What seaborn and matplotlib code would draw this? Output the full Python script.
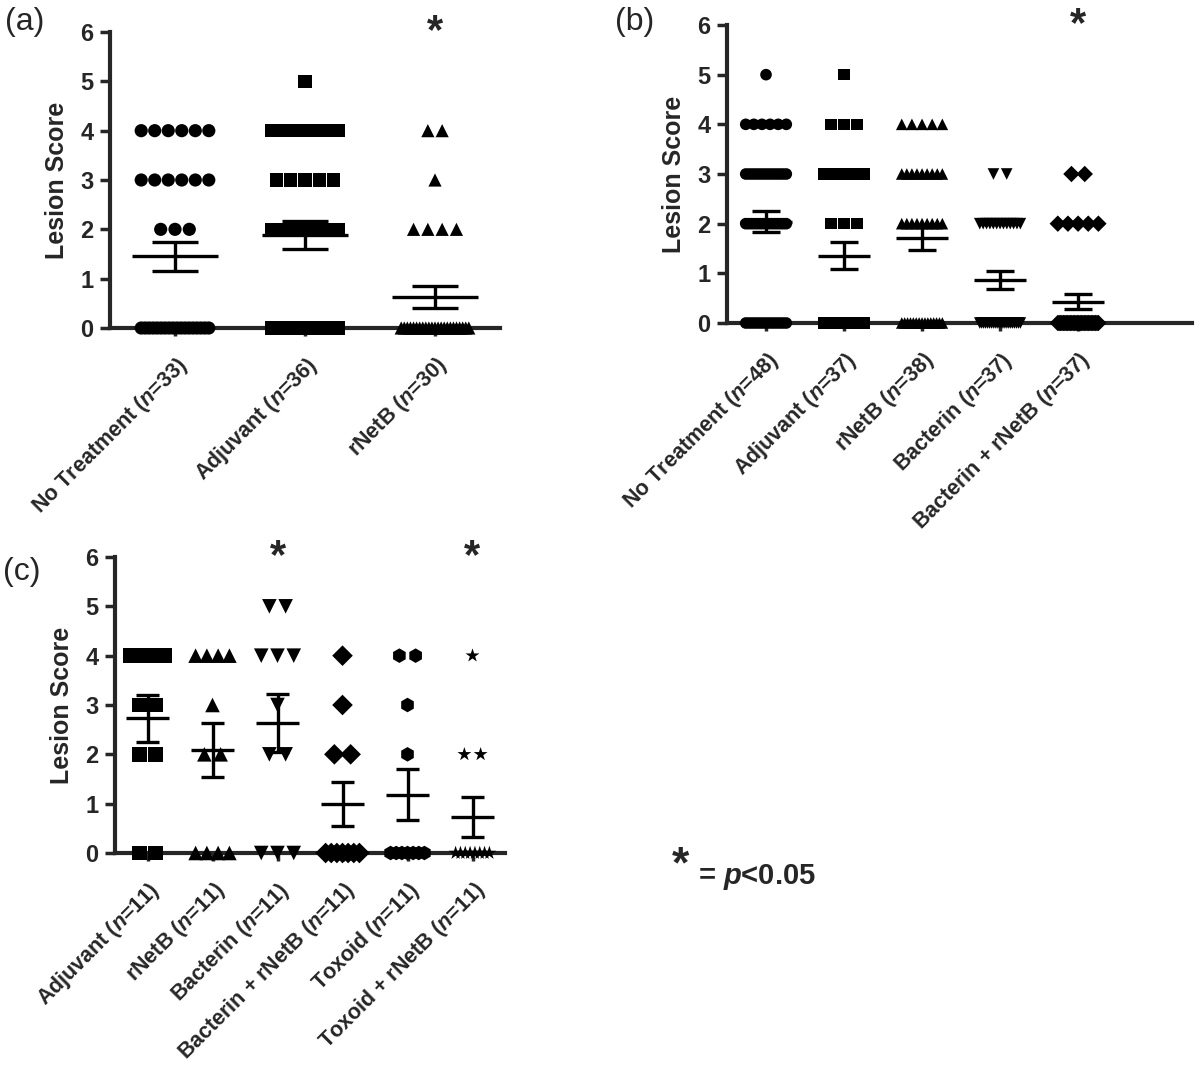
import numpy as np
import pandas as pd
import matplotlib
matplotlib.use("Agg")
import matplotlib.pyplot as plt
import seaborn as sns

sns.set_style("ticks")
plt.rcParams['font.family'] = ['Liberation Sans', 'DejaVu Sans']
plt.rcParams['font.weight'] = 'bold'
plt.rcParams['mathtext.fontset'] = 'custom'
plt.rcParams['mathtext.it'] = 'Liberation Sans:italic:bold'
plt.rcParams['mathtext.rm'] = 'Liberation Sans:bold'

# lesion score levels, counts per group are for scores 0..5
scores = [0, 1, 2, 3, 4, 5]

a_groups = ["No Treatment", "Adjuvant", "rNetB"]
a_n = [33, 36, 30]
a_counts = [[18, 0, 3, 6, 6, 0],
            [14, 0, 8, 5, 8, 1],
            [23, 0, 4, 1, 2, 0]]
a_markers = ["o", "s", "^"]
a_sig = ["rNetB"]

b_groups = ["No Treatment", "Adjuvant", "rNetB", "Bacterin", "Bacterin + rNetB"]
b_n = [48, 37, 38, 37, 37]
b_counts = [[13, 0, 15, 13, 6, 1],
            [21, 0, 3, 9, 3, 1],
            [15, 0, 9, 9, 5, 0],
            [22, 0, 13, 2, 0, 0],
            [30, 0, 5, 2, 0, 0]]
b_markers = ["o", "s", "^", "v", "D"]
b_sig = ["Bacterin + rNetB"]

c_groups = ["Adjuvant", "rNetB", "Bacterin", "Bacterin + rNetB", "Toxoid", "Toxoid + rNetB"]
c_n = [11, 11, 11, 11, 11, 11]
c_counts = [[2, 0, 2, 2, 5, 0],
            [4, 0, 2, 1, 4, 0],
            [3, 0, 2, 1, 3, 2],
            [7, 0, 2, 1, 1, 0],
            [7, 0, 1, 1, 2, 0],
            [8, 0, 2, 0, 1, 0]]
c_markers = ["s", "^", "v", "D", "h", "*"]
c_sig = ["Bacterin", "Toxoid + rNetB"]


def build_frame(groups, counts, step, maxw):
    # spread equal scores side by side, like a GraphPad scatter column
    rows = []
    for i, (g, cnt) in enumerate(zip(groups, counts)):
        for sc, k in zip(scores, cnt):
            if k == 0:
                continue
            w = min((k - 1) * step, maxw)
            for off in np.linspace(-w / 2, w / 2, k):
                rows.append({"group": g, "score": sc, "x": i + off})
    return pd.DataFrame(rows)


def panel(ax, groups, n, counts, markers, sig, step, maxw, size, xmax):
    df = build_frame(groups, counts, step, maxw)
    mk = dict(zip(groups, markers))
    sns.scatterplot(data=df, x="x", y="score", style="group", markers=mk,
                    style_order=groups, color="black", s=size,
                    edgecolor="none", legend=False, clip_on=False, zorder=3, ax=ax)
    stats = df.groupby("group", sort=False)["score"].agg(["mean", "sem"]).reindex(groups)
    xs = np.arange(len(groups))
    ax.hlines(stats["mean"], xs - 0.33, xs + 0.33, color="black", lw=2.4, zorder=4)
    ax.vlines(xs, stats["mean"] - stats["sem"], stats["mean"] + stats["sem"],
              color="black", lw=2.4, zorder=4)
    for sgn in (-1, 1):
        ax.hlines(stats["mean"] + sgn * stats["sem"], xs - 0.18, xs + 0.18,
                  color="black", lw=2.4, zorder=4)
    for g in sig:
        ax.text(groups.index(g), 6.0, "*", ha="center", va="center",
                fontsize=30, fontweight="bold", clip_on=False)
    ax.set_xlim(-0.5, xmax)
    ax.set_ylim(0, 6)
    ax.set_yticks(range(0, 7))
    ax.set_xticks(xs)
    ax.set_xticklabels([f"{g} ($n$={k})" for g, k in zip(groups, n)],
                       rotation=45, ha="right", rotation_mode="anchor",
                       fontsize=15.5, fontweight="bold")
    ax.tick_params(axis="y", labelsize=17, width=2.5, length=7, pad=5)
    ax.tick_params(axis="x", width=2.5, length=6, pad=12)
    for lab in ax.get_yticklabels():
        lab.set_fontweight("bold")
    ax.set_xlabel("")
    ax.set_ylabel("Lesion Score", fontsize=18, fontweight="bold", labelpad=8)
    sns.despine(ax=ax)
    for sp in ("left", "bottom"):
        ax.spines[sp].set_linewidth(3)
    ax.spines["left"].set_zorder(5)


fig = plt.figure(figsize=(12, 10.74), dpi=100)
ax_a = fig.add_axes([110 / 1200, 1 - 328 / 1074, 390 / 1200, 296 / 1074])
ax_b = fig.add_axes([727 / 1200, 1 - 323 / 1074, 465 / 1200, 298 / 1074])
ax_c = fig.add_axes([115 / 1200, 1 - 853 / 1074, 390 / 1200, 296 / 1074])

panel(ax_a, a_groups, a_n, a_counts, a_markers, a_sig, 0.11, 0.52, 90, 2.5)
panel(ax_b, b_groups, b_n, b_counts, b_markers, b_sig, 0.17, 0.52, 70, 5.46)
panel(ax_c, c_groups, c_n, c_counts, c_markers, c_sig, 0.25, 0.52, 110, 5.5)

fig.text(25 / 1200, 1 - 22 / 1074, "(a)", fontsize=23, fontweight="normal", ha="center", va="center")
fig.text(635 / 1200, 1 - 22 / 1074, "(b)", fontsize=23, fontweight="normal", ha="center", va="center")
fig.text(22 / 1200, 1 - 572 / 1074, "(c)", fontsize=23, fontweight="normal", ha="center", va="center")
fig.text(680 / 1200, 1 - 866 / 1074, "*", fontsize=32, fontweight="bold", ha="center", va="center")
fig.text(698 / 1200, 1 - 877 / 1074, "= $p$<0.05", fontsize=21, fontweight="bold", ha="left", va="center")

fig.savefig("out.png", dpi=100)
